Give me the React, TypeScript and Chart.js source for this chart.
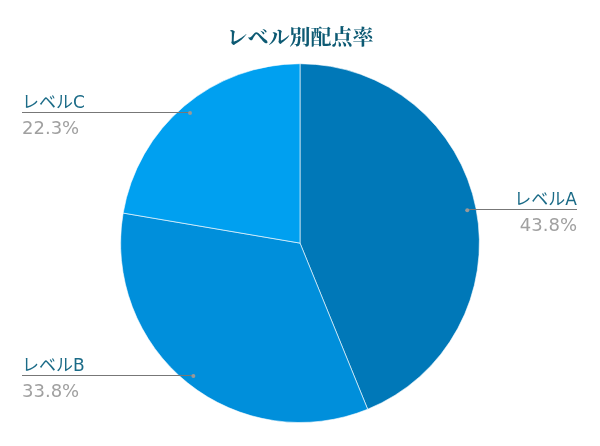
import { useEffect, useRef } from 'react';
import { Chart, registerables } from 'chart.js';
import type { Plugin } from 'chart.js';

Chart.register(...registerables);

const categories = ['レベルA', 'レベルB', 'レベルC'];
const shares = [43.8, 33.8, 22.3];
const sliceColors = ['#0078b8', '#008fdb', '#00a0f0'];

// leader lines with name above and percent below
const calloutPlugin: Plugin<'pie'> = {
  id: 'callouts',
  afterDraw(chart) {
    const ctx = chart.ctx;
    const meta = chart.getDatasetMeta(0);
    meta.data.forEach((arc, i) => {
      const p = arc.getProps(['x', 'y', 'startAngle', 'endAngle', 'outerRadius'], true) as any;
      const mid = (p.startAngle + p.endAngle) / 2;
      const r = p.outerRadius * 0.95;
      const dx = p.x + Math.cos(mid) * r;
      const dy = p.y + Math.sin(mid) * r;
      const right = Math.cos(mid) >= 0;
      const edge = right ? chart.width - 23 : 22;
      const ly = Math.round(dy) - 0.5;

      ctx.save();
      ctx.strokeStyle = '#777777';
      ctx.lineWidth = 1;
      ctx.beginPath();
      ctx.moveTo(dx, ly);
      ctx.lineTo(edge, ly);
      ctx.stroke();

      ctx.fillStyle = '#999999';
      ctx.beginPath();
      ctx.arc(dx, dy, 2, 0, Math.PI * 2);
      ctx.fill();

      ctx.textAlign = right ? 'right' : 'left';
      ctx.textBaseline = 'alphabetic';
      ctx.fillStyle = '#1b6b87';
      ctx.font = '17px "DejaVu Sans", "Noto Sans CJK JP", sans-serif';
      ctx.fillText(categories[i], edge, ly - 5);

      ctx.fillStyle = '#a0a0a0';
      ctx.font = '18px "DejaVu Sans", sans-serif';
      ctx.fillText(shares[i].toFixed(1) + '%', edge, ly + 21);
      ctx.restore();
    });
  },
};

export default function App() {
  const canvasRef = useRef<HTMLCanvasElement>(null);
  const chartRef = useRef<Chart<'pie'> | null>(null);

  useEffect(() => {
    document.body.style.margin = '0';
    if (!canvasRef.current) return;
    if (chartRef.current) chartRef.current.destroy();

    chartRef.current = new Chart(canvasRef.current, {
      type: 'pie',
      data: {
        labels: categories,
        datasets: [{
          data: shares,
          backgroundColor: sliceColors,
          borderColor: 'rgba(255,255,255,0.6)',
          borderWidth: 1,
        }],
      },
      options: {
        responsive: true,
        maintainAspectRatio: false,
        animation: false,
        layout: { padding: { top: 0, bottom: 23, left: 0, right: 0 } },
        plugins: {
          legend: { display: false },
          tooltip: { enabled: false },
          title: {
            display: true,
            text: 'レベル別配点率',
            color: '#0d5a73',
            font: { size: 21, weight: 'bold', family: '"Noto Serif CJK JP", serif, "Noto Sans CJK JP"' },
            padding: { top: 23, bottom: 15 },
          },
        },
      },
      plugins: [calloutPlugin],
    });

    return () => {
      if (chartRef.current) {
        chartRef.current.destroy();
        chartRef.current = null;
      }
    };
  }, []);

  return (
    <div style={{ width: 600, height: 446, position: 'relative' }}>
      <canvas ref={canvasRef}></canvas>
    </div>
  );
}
